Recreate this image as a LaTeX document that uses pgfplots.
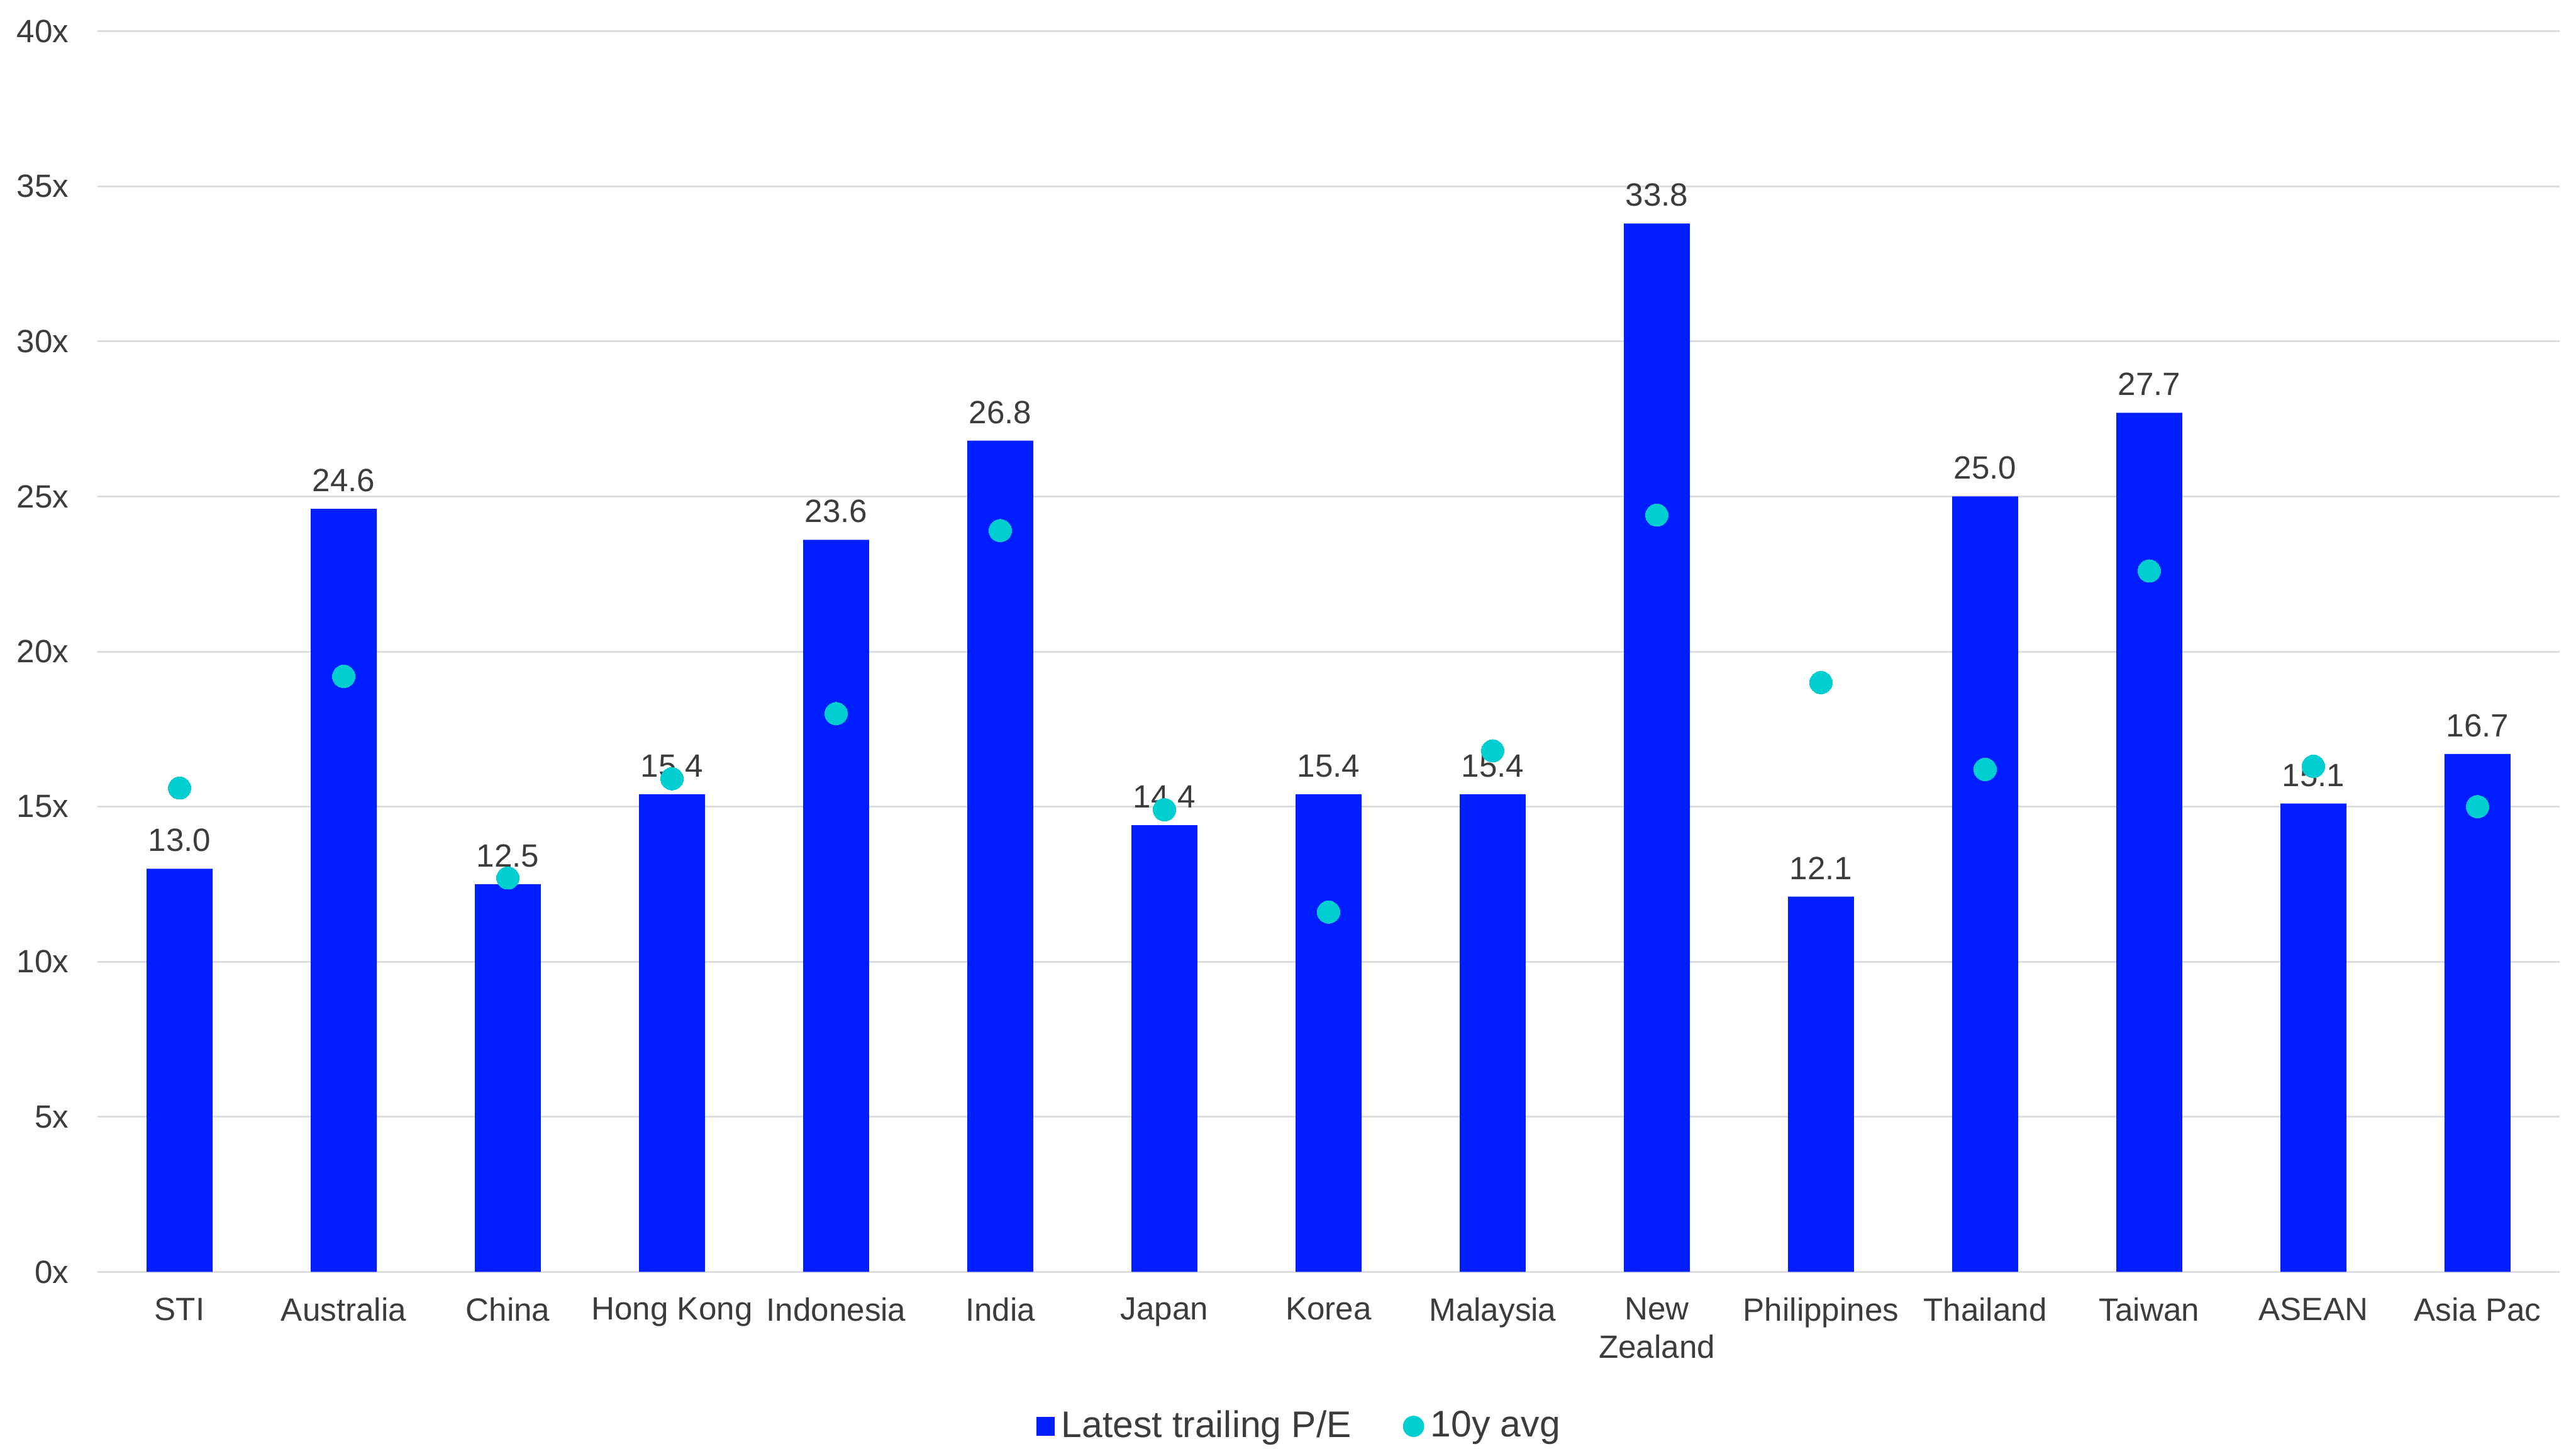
\documentclass[border=0pt]{standalone}
\usepackage{pgfplots}
\pgfplotsset{compat=1.18}
\usepackage{fontspec}
\setmainfont{Liberation Sans}
\definecolor{barblue}{RGB}{0,30,255}
\definecolor{dotcyan}{RGB}{0,206,209}
\definecolor{gridgray}{RGB}{222,222,222}
\definecolor{txt}{RGB}{60,60,60}
\begin{document}
\begin{tikzpicture}
\begin{axis}[
  scale only axis,
  width=765pt, height=385.5pt,
  xmin=-0.5, xmax=14.5,
  ymin=0, ymax=40,
  ytick={0,5,...,40},
  xtick={0,...,14},
  xticklabels={STI,Australia,China,Hong Kong,Indonesia,India,Japan,Korea,Malaysia,New\\Zealand,Philippines,Thailand,Taiwan,ASEAN,Asia Pac},
  xticklabel style={align=center, font=\fontsize{10}{11.8}\selectfont, text=txt, yshift=-4.5pt},
  yticklabel={\pgfmathprintnumber[assume math mode=true]{\tick}x},
  yticklabel style={font=\fontsize{10}{12}\selectfont, text=txt, xshift=-5.4pt},
  axis line style={draw=none},
  major tick length=0pt,
  tick style={draw=none},
  ymajorgrids,
  grid style={draw=gridgray, line width=0.6pt},
  legend columns=2,
  legend style={at={(0.489,-0.1245)}, anchor=center, draw=none, fill=none,
    font=\fontsize{11.5}{13}\selectfont, text=txt,
    /tikz/every even column/.append style={column sep=14pt}},
  legend cell align=left,
]
\addplot[ybar, bar width=20.5pt, fill=barblue, draw=none,
  nodes near coords,
  nodes near coords style={font=\fontsize{10}{12}\selectfont, text=txt},
  every node near coord/.append style={anchor=base, yshift=5.4pt, /pgf/number format/.cd, fixed, fixed zerofill, precision=1, assume math mode=true},
  legend image code/.code={\fill[barblue] (0pt,-2.9pt) rectangle (5.8pt,2.9pt);}
] coordinates {
(0,13.0) (1,24.6) (2,12.5) (3,15.4) (4,23.6) (5,26.8) (6,14.4) (7,15.4) (8,15.4) (9,33.8) (10,12.1) (11,25.0) (12,27.7) (13,15.1) (14,16.7)
};
\addlegendentry{Latest trailing P/E}
\addplot[only marks, color=dotcyan, mark=*, mark size=3.5pt, mark options={fill=dotcyan, draw=dotcyan, line width=0pt},
  legend image code/.code={\fill[dotcyan] (3pt,0pt) circle (3.1pt);}
] coordinates {
(0,15.6) (1,19.2) (2,12.7) (3,15.9) (4,18.0) (5,23.9) (6,14.9) (7,11.6) (8,16.8) (9,24.4) (10,19.0) (11,16.2) (12,22.6) (13,16.3) (14,15.0)
};
\addlegendentry{10y avg}
\end{axis}
\pgfresetboundingbox
\path[use as bounding box] (-30.3pt,-55pt) rectangle (770.1pt,395.2pt);
\end{tikzpicture}
\end{document}
